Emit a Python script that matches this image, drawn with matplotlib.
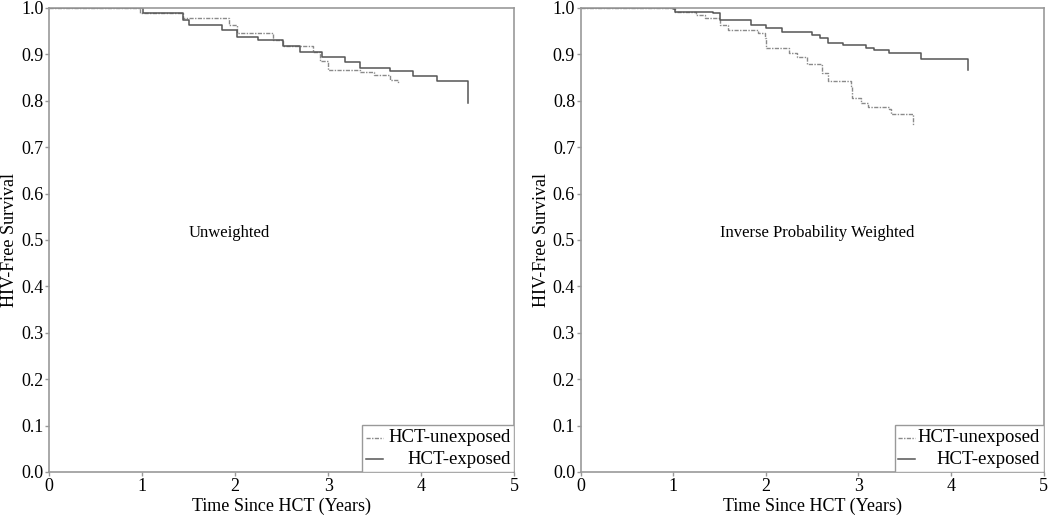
import matplotlib
matplotlib.use("Agg")
import matplotlib.pyplot as plt
from matplotlib.patches import Rectangle

plt.rcParams['font.family'] = ['Liberation Serif', 'DejaVu Serif']

# Unweighted (left panel), step points
unw_exp_t = [0, 0.68, 1.01, 1.44, 1.50, 1.86, 2.02, 2.25, 2.52, 2.70, 2.93, 3.18, 3.34, 3.67, 3.91, 4.17, 4.50, 4.50]
unw_exp_s = [1.0, 1.0, 0.989, 0.974, 0.963, 0.953, 0.938, 0.930, 0.917, 0.906, 0.895, 0.884, 0.870, 0.863, 0.853, 0.843, 0.843, 0.795]
unw_une_t = [0, 0.68, 0.98, 1.44, 1.93, 2.02, 2.41, 2.52, 2.84, 2.91, 3.00, 3.34, 3.49, 3.67, 3.75]
unw_une_s = [1.0, 1.0, 0.990, 0.979, 0.963, 0.945, 0.930, 0.917, 0.906, 0.885, 0.866, 0.862, 0.855, 0.845, 0.838]

# Inverse probability weighted (right panel)
ipw_exp_t = [0, 0.67, 1.00, 1.02, 1.43, 1.50, 1.84, 2.00, 2.17, 2.50, 2.58, 2.67, 2.83, 3.08, 3.17, 3.33, 3.68, 4.18, 4.18]
ipw_exp_s = [1.0, 1.0, 0.997, 0.992, 0.989, 0.974, 0.963, 0.956, 0.949, 0.942, 0.935, 0.925, 0.920, 0.913, 0.909, 0.902, 0.889, 0.889, 0.866]
ipw_une_t = [0, 0.67, 1.02, 1.25, 1.34, 1.50, 1.59, 1.91, 1.99, 2.00, 2.25, 2.34, 2.44, 2.60, 2.61, 2.67, 2.92, 2.93, 3.03, 3.10, 3.33, 3.35, 3.59, 3.59]
ipw_une_s = [1.0, 1.0, 0.992, 0.985, 0.978, 0.963, 0.953, 0.945, 0.935, 0.913, 0.902, 0.895, 0.880, 0.876, 0.860, 0.843, 0.832, 0.806, 0.794, 0.786, 0.782, 0.772, 0.759, 0.748]

x_ticks = [0, 1, 2, 3, 4, 5]
y_ticks = [0.0, 0.1, 0.2, 0.3, 0.4, 0.5, 0.6, 0.7, 0.8, 0.9, 1.0]
labels = ['HCT-unexposed', 'HCT-exposed']

une_style = dict(color='#8a8a8a', lw=1.0, linestyle=(0, (3, 1, 1, 1)))
exp_style = dict(color='#555555', lw=1.1, linestyle='-')

fig = plt.figure(figsize=(10.5, 5.25), dpi=100)
ax1 = fig.add_axes([0.0467, 0.101, 0.443, 0.884])
ax2 = fig.add_axes([0.553, 0.101, 0.441, 0.884])

panels = [
    (ax1, unw_une_t, unw_une_s, unw_exp_t, unw_exp_s, 'Unweighted', 0.673),
    (ax2, ipw_une_t, ipw_une_s, ipw_exp_t, ipw_exp_s, 'Inverse Probability Weighted', 0.678),
]

for ax, ut, us, et, es, label, box_left in panels:
    ax.step(ut, us, where='post', **une_style)
    ax.step(et, es, where='post', **exp_style)
    ax.set_xlim(0, 5)
    ax.set_ylim(0, 1)
    ax.set_xticks(x_ticks)
    ax.set_yticks(y_ticks)
    ax.set_yticklabels(['%.1f' % v for v in y_ticks])
    for sp in ax.spines.values():
        sp.set_color('#999999')
        sp.set_linewidth(1.2)
    ax.tick_params(direction='out', length=3, width=1, color='#999999',
                   labelsize=13, pad=1)
    ax.set_xlabel('Time Since HCT (Years)', fontsize=13, labelpad=2)
    ax.set_ylabel('HIV-Free Survival', fontsize=13, labelpad=2)
    ax.text(1.5, 0.515, label, fontsize=12, va='center', ha='left')

    # legend box drawn by hand so the labels can be right-aligned
    ax.add_patch(Rectangle((box_left, 0), 1 - box_left, 0.101, transform=ax.transAxes,
                           facecolor='white', edgecolor='#999999', lw=1.0, zorder=5))
    for k, (lab, st) in enumerate(zip(labels, [une_style, exp_style])):
        yy = 0.074 - k * 0.047
        ax.plot([box_left + 0.008, box_left + 0.045], [yy, yy], transform=ax.transAxes,
                zorder=6, clip_on=False, **st)
        ax.text(0.992, yy, lab, transform=ax.transAxes, ha='right', va='center',
                fontsize=13.5, zorder=6)

fig.savefig('out.png', dpi=100)
